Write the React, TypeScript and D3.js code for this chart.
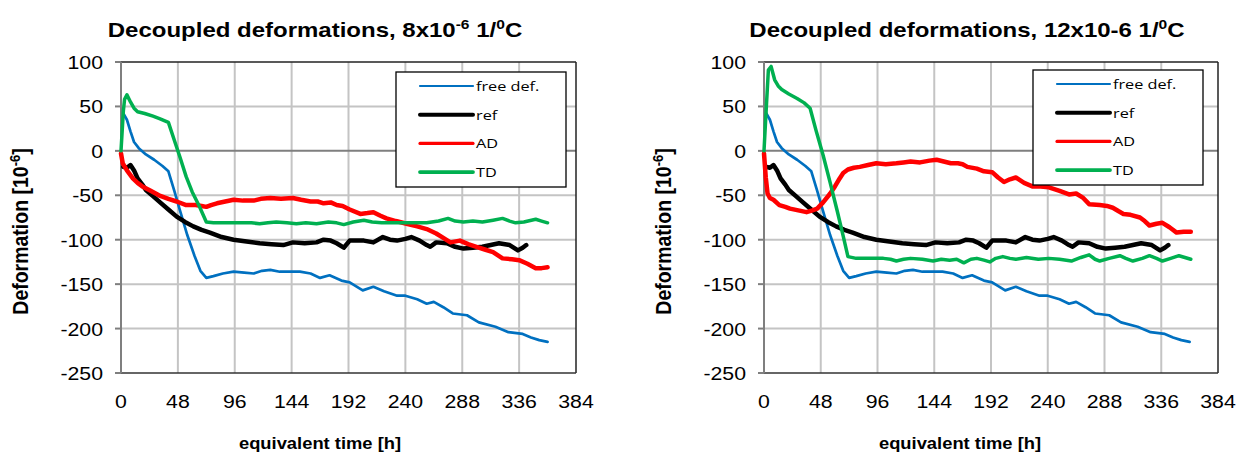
import React from 'react';
import * as d3 from 'd3';

// hours, deformation [1e-6]
const freeDef: [number, number][] = [
  [2, 42], [5, 35], [8, 22], [11, 10], [15, 3], [21, -4], [28, -10], [35, -17], [40, -23],
  [45, -45], [50, -68], [56, -95], [62, -118], [67, -135], [72, -143], [78, -141], [86, -138],
  [95, -136], [104, -137], [112, -138], [119, -135], [126, -134], [134, -136], [143, -136],
  [151, -136], [160, -138], [168, -143], [176, -140], [186, -146], [193, -148], [204, -157],
  [213, -153], [222, -158], [233, -163], [240, -163], [250, -167], [258, -172], [264, -170],
  [272, -176], [280, -183], [292, -185], [302, -193], [316, -198], [327, -204], [339, -206],
  [346, -210], [353, -213], [360, -215],
];

const refDef: [number, number][] = [
  [2, -18], [5, -19], [8, -16], [11, -22], [14, -31], [18, -38], [21, -44], [27, -51], [33, -58],
  [40, -66], [47, -74], [54, -80], [61, -85], [68, -89], [75, -92], [85, -97], [95, -100],
  [106, -102], [117, -104], [127, -105], [137, -106], [145, -103], [155, -104], [165, -103],
  [171, -100], [177, -101], [182, -104], [188, -109], [193, -101], [200, -101], [205, -101],
  [213, -103], [221, -97], [227, -100], [233, -101], [240, -99], [245, -97], [252, -101],
  [258, -106], [261, -108], [266, -103], [275, -104], [282, -108], [289, -110], [297, -109],
  [305, -108], [312, -106], [319, -104], [328, -106], [335, -112], [339, -109], [342, -106],
];

const adLeft: [number, number][] = [
  [0, -3], [1.5, -14], [5, -22], [10, -31], [14, -36], [18, -40], [25, -45], [32, -50], [40, -54],
  [47, -57], [55, -61], [63, -61], [68, -62], [72, -63], [76, -61], [81, -59], [88, -57], [95, -55],
  [103, -56], [112, -56], [118, -54], [126, -53], [135, -54], [145, -53], [152, -55], [160, -57],
  [166, -57], [171, -59], [177, -58], [182, -61], [187, -62], [193, -66], [202, -71], [208, -70],
  [213, -69], [219, -73], [224, -76], [232, -79], [241, -82], [250, -85], [258, -88], [266, -93],
  [272, -98], [278, -103], [286, -101], [293, -105], [300, -108], [307, -111], [314, -114],
  [322, -121], [330, -122], [336, -123], [343, -127], [350, -132], [355, -132], [360, -131],
];

const tdLeft: [number, number][] = [
  [0, 0], [2, 45], [3, 58], [5, 63], [8, 55], [11, 48], [14, 44], [20, 42], [27, 39], [33, 36],
  [40, 32], [45, 12], [50, -8], [55, -29], [60, -46], [66, -62], [72, -80], [78, -81], [90, -81],
  [103, -81], [110, -81], [117, -82], [124, -81], [131, -80], [140, -81], [148, -82], [156, -81],
  [165, -82], [175, -80], [182, -81], [188, -83], [196, -80], [205, -78], [212, -80], [220, -81],
  [233, -81], [245, -81], [258, -81], [268, -79], [276, -76], [282, -79], [289, -80], [297, -79],
  [305, -80], [314, -78], [322, -76], [328, -79], [333, -81], [340, -80], [350, -77], [355, -79],
  [360, -81],
];

const adRight: [number, number][] = [
  [0, -3], [1.5, -30], [3, -48], [5, -53], [8, -55], [13, -61], [18, -63], [22, -65], [29, -67],
  [36, -69], [41, -67], [45, -65], [50, -58], [56, -48], [60, -40], [64, -31], [67, -25], [71, -21],
  [76, -19], [81, -18], [88, -16], [95, -14], [103, -15], [112, -14], [118, -13], [124, -12],
  [132, -13], [140, -11], [146, -10], [152, -12], [158, -14], [164, -14], [168, -15], [172, -18],
  [180, -20], [186, -23], [193, -24], [198, -30], [203, -35], [208, -32], [213, -30], [220, -36],
  [227, -40], [234, -40], [241, -41], [250, -45], [258, -49], [264, -48], [270, -53], [275, -60],
  [284, -61], [290, -62], [295, -64], [300, -68], [304, -71], [310, -72], [318, -75], [322, -79],
  [326, -84], [332, -82], [337, -81], [343, -86], [349, -92], [355, -91], [361, -91],
];

const tdRight: [number, number][] = [
  [0, 0], [2, 50], [3.7, 91], [6, 95], [9, 80], [12, 73], [15, 69], [21, 64], [28, 59], [34, 54],
  [39, 48], [44, 23], [50, -5], [56, -36], [62, -68], [67, -96], [71, -119], [78, -121], [90, -121],
  [101, -121], [107, -122], [112, -124], [118, -122], [124, -121], [134, -122], [143, -124],
  [150, -122], [157, -123], [163, -122], [169, -126], [175, -122], [180, -121], [186, -123],
  [191, -125], [196, -121], [202, -119], [208, -121], [213, -122], [222, -120], [232, -122],
  [241, -121], [250, -122], [260, -124], [268, -120], [275, -117], [280, -122], [284, -124],
  [292, -121], [301, -118], [306, -121], [312, -124], [320, -121], [326, -118], [332, -121],
  [337, -124], [344, -121], [351, -118], [356, -120], [361, -122],
];

const xTicks = [0, 48, 96, 144, 192, 240, 288, 336, 384];
const yTicks = [100, 50, 0, -50, -100, -150, -200, -250];
const seriesNames = ['free def.', 'ref', 'AD', 'TD'];
const colors = ['#0070C0', '#000000', '#FF0000', '#00B050'];
const widths = [2.7, 4.5, 4.5, 3.5];
const legendWidths = [2.2, 4, 3.2, 3.8];

const axisFont = 'Liberation Sans, Arial, sans-serif';

// the original picture is a bit wider than tall, so text is stretched sideways
function T({ x, y, sx = 1.15, children, ...rest }: any) {
  return (
    <g transform={`translate(${x},${y}) scale(${sx},1)`}>
      <text x={0} y={0} {...rest}>
        {children}
      </text>
    </g>
  );
}

type PanelProps = {
  plotLeft: number;
  plotRight: number;
  titleX: number;
  xTitleX: number;
  title: React.ReactNode;
  series: [number, number][][];
  legend: { x: number; y: number; w: number; h: number };
};

function Panel({ plotLeft, plotRight, titleX, xTitleX, title, series, legend }: PanelProps) {
  const top = 62;
  const bottom = 373;
  const x = d3.scaleLinear().domain([0, 384]).range([plotLeft, plotRight]);
  const y = d3.scaleLinear().domain([-250, 100]).range([bottom, top]);
  const line = d3
    .line<[number, number]>()
    .x((d) => x(d[0]))
    .y((d) => y(d[1]));
  const yMid = (top + bottom) / 2 + 14;

  return (
    <g>
      <T x={titleX} y={37} sx={1.2} textAnchor="middle" fontFamily={axisFont} fontWeight="bold" fontSize={20}>
        {title}
      </T>
      {/* grid */}
      {xTicks.slice(1, -1).map((t) => (
        <line key={'gx' + t} x1={x(t)} x2={x(t)} y1={top} y2={bottom} stroke="#c4c4c4" strokeWidth={2} />
      ))}
      {yTicks.filter((v) => v !== 100 && v !== -250 && v !== 0).map((v) => (
        <line key={'gy' + v} x1={plotLeft} x2={plotRight} y1={y(v)} y2={y(v)} stroke="#c4c4c4" strokeWidth={2} />
      ))}
      <line x1={plotLeft} x2={plotRight} y1={y(0)} y2={y(0)} stroke="#7f7f7f" strokeWidth={2} />
      {/* frame */}
      <line x1={plotLeft} x2={plotRight} y1={top} y2={top} stroke="#222" strokeWidth={1.5} />
      <line x1={plotRight} x2={plotRight} y1={top} y2={bottom} stroke="#222" strokeWidth={1.5} />
      <line x1={plotLeft} x2={plotRight} y1={bottom} y2={bottom} stroke="#333" strokeWidth={1.5} />
      <line x1={plotLeft} x2={plotLeft} y1={top} y2={bottom} stroke="#7f7f7f" strokeWidth={2} />
      {yTicks.map((v) => (
        <g key={'ty' + v}>
          <line x1={plotLeft - 6} x2={plotLeft} y1={y(v)} y2={y(v)} stroke="#7f7f7f" strokeWidth={2} />
          <T x={plotLeft - 18} y={y(v) + 7} textAnchor="end" fontFamily={axisFont} fontSize={18.5}>
            {v}
          </T>
        </g>
      ))}
      {xTicks.map((t) => (
        <T key={'tx' + t} x={x(t)} y={408} textAnchor="middle" fontFamily={axisFont} fontSize={18.5}>
          {t}
        </T>
      ))}
      <T x={xTitleX} y={449} sx={1.08} textAnchor="middle" fontFamily={axisFont} fontWeight="bold" fontSize={17}>
        equivalent time [h]
      </T>
      <text
        transform={`translate(${plotLeft - 93},${yMid}) rotate(-90) scale(1,1.12)`}
        textAnchor="middle"
        fontFamily={axisFont}
        fontWeight="bold"
        fontSize={19.5}
      >
        Deformation [10<tspan dy={-7} fontSize={13}>-6</tspan>
        <tspan dy={7}>]</tspan>
      </text>
      {/* data */}
      {series.map((s, i) => (
        <path
          key={'s' + i}
          d={line(s) || ''}
          fill="none"
          stroke={colors[i]}
          strokeWidth={widths[i]}
          strokeLinejoin="round"
          strokeLinecap="round"
        />
      ))}
      {/* legend */}
      <rect x={legend.x} y={legend.y} width={legend.w} height={legend.h} fill="#fff" stroke="#000" strokeWidth={1.3} />
      {seriesNames.map((n, i) => {
        const ly = legend.y + 14 + i * 28.7;
        return (
          <g key={'l' + i}>
            <line
              x1={legend.x + 24}
              x2={legend.x + 77}
              y1={ly}
              y2={ly}
              stroke={colors[i]}
              strokeWidth={legendWidths[i]}
              strokeLinecap="round"
            />
            <T x={legend.x + 80} y={ly + 5} sx={1.25} fontFamily="Open Sans, sans-serif" fontSize={13}>
              {n}
            </T>
          </g>
        );
      })}
    </g>
  );
}

export default function App() {
  return (
    <svg
      width={1237}
      height={452}
      style={{ position: 'absolute', left: 0, top: 0, background: '#fff' }}
    >
      <Panel
        plotLeft={121}
        plotRight={576}
        titleX={315}
        xTitleX={320}
        title={
          <>
            Decoupled deformations, 8x10<tspan dy={-8} fontSize={13}>-6</tspan>
            <tspan dy={8}> 1/</tspan>
            <tspan dy={-8} fontSize={13}>0</tspan>
            <tspan dy={8}>C</tspan>
          </>
        }
        series={[freeDef, refDef, adLeft, tdLeft]}
        legend={{ x: 396, y: 72, w: 170, h: 115 }}
      />
      <Panel
        plotLeft={764}
        plotRight={1218}
        titleX={967}
        xTitleX={960}
        title={
          <>
            Decoupled deformations, 12x10-6 1/<tspan dy={-8} fontSize={13}>0</tspan>
            <tspan dy={8}>C</tspan>
          </>
        }
        series={[freeDef, refDef, adRight, tdRight]}
        legend={{ x: 1033, y: 70, w: 170, h: 115 }}
      />
    </svg>
  );
}
